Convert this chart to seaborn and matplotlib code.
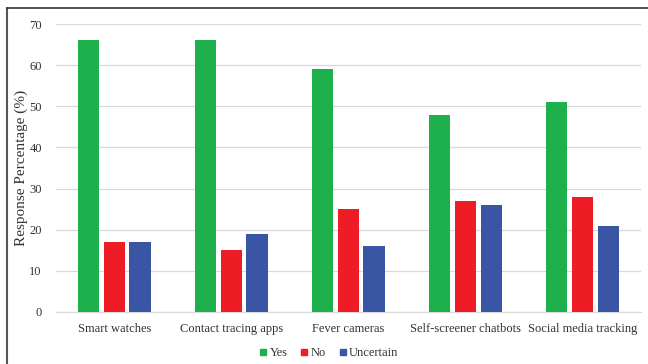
import matplotlib
matplotlib.use("Agg")
import matplotlib.pyplot as plt
from matplotlib.lines import Line2D
import seaborn as sns
import pandas as pd

categories = ["Smart watches", "Contact tracing apps", "Fever cameras",
              "Self-screener chatbots", "Social media tracking"]
yes_vals = [66, 66, 59, 48, 51]
no_vals = [17, 15, 25, 27, 28]
uncertain_vals = [17, 19, 16, 26, 21]
series_names = ["Yes", "No", "Uncertain"]
colors = ["#1EB04C", "#EE1D25", "#3A55A4"]

rows = []
for name, vals in zip(series_names, [yes_vals, no_vals, uncertain_vals]):
    for c, v in zip(categories, vals):
        rows.append({"Category": c, "Response": name, "Value": v})
df = pd.DataFrame(rows)

sns.set_theme(style="white")
plt.rcParams["font.family"] = ["Liberation Serif", "DejaVu Serif"]

fig = plt.figure(figsize=(6.48, 3.64), dpi=100)
ax = fig.add_axes([0.086, 0.143, 0.903, 0.791])

sns.barplot(data=df, x="Category", y="Value", hue="Response",
            palette=colors, saturation=1, width=0.66, gap=0.18, ax=ax,
            edgecolor="none", legend=False, zorder=3)

ax.set_ylim(0, 70)
ax.set_yticks(range(0, 71, 10))
ax.yaxis.grid(True, color="#D9D9D9", linewidth=0.9, zorder=0)
ax.set_axisbelow(True)
for s in ["top", "right", "left"]:
    ax.spines[s].set_visible(False)
ax.spines["bottom"].set_color("#D9D9D9")
ax.spines["bottom"].set_linewidth(0.9)
ax.tick_params(axis="x", length=0, labelsize=9, colors="#333333", pad=8)
ax.tick_params(axis="y", length=0, labelsize=9, colors="#333333", pad=10)
ax.set_xlabel("")
ax.set_ylabel("Response Percentage (%)", fontsize=11, color="#333333")
ax.yaxis.set_label_coords(-0.048, 0.5)
ax.set_xlim(-0.5, 4.5)

handles = [Line2D([0], [0], marker="s", linestyle="none", markersize=5,
                  markerfacecolor=c, markeredgecolor=c) for c in colors]
fig.legend(handles, series_names, loc="center", bbox_to_anchor=(0.508, 0.03),
           ncol=3, frameon=False, fontsize=9, handlelength=0.5,
           handletextpad=0.25, columnspacing=1.1, labelcolor="#333333",
           borderpad=0)

# partial frame around the figure
fig.add_artist(Line2D([7/648, 7/648], [0, 1 - 8/364], transform=fig.transFigure,
                      color="#555555", linewidth=1.5))
fig.add_artist(Line2D([7/648, 1], [1 - 8/364, 1 - 8/364], transform=fig.transFigure,
                      color="#333333", linewidth=1.2))

fig.savefig("out.png", dpi=100)
